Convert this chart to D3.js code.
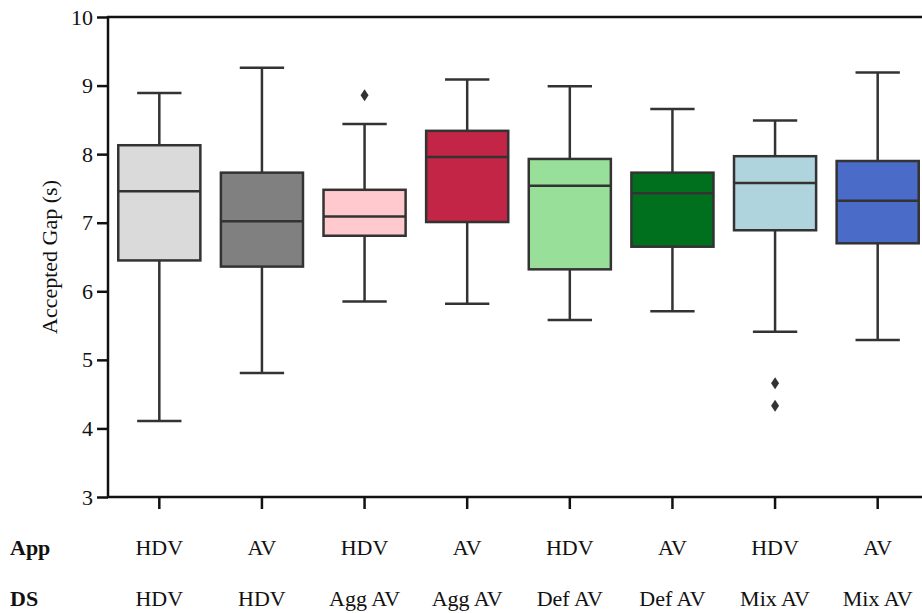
<!DOCTYPE html>
<html>
<head>
<meta charset="utf-8">
<script src="https://cdn.jsdelivr.net/npm/d3@7"></script>
<style>
body { margin: 0; background: #fff; }
svg text { font-family: "Times New Roman", "Liberation Serif", "DejaVu Serif", serif; }
</style>
</head>
<body>
<svg></svg>
<script>
var screen = {width: 922, height: 613};
var margins = {top: 17, right: -7, bottom: 116, left: 108};

// data
var keys = ["g1", "g2", "g3", "g4", "g5", "g6", "g7", "g8"];
var appLabels = ["HDV", "AV", "HDV", "AV", "HDV", "AV", "HDV", "AV"];
var dsLabels = ["HDV", "HDV", "Agg AV", "Agg AV", "Def AV", "Def AV", "Mix AV", "Mix AV"];
var whiskerLow = [4.11, 4.81, 5.85, 5.82, 5.58, 5.71, 5.41, 5.29];
var q1 = [6.45, 6.36, 6.81, 7.01, 6.32, 6.65, 6.89, 6.70];
var median = [7.46, 7.02, 7.09, 7.96, 7.54, 7.43, 7.58, 7.32];
var q3 = [8.13, 7.73, 7.48, 8.34, 7.93, 7.73, 7.97, 7.90];
var whiskerHigh = [8.89, 9.26, 8.44, 9.09, 8.99, 8.66, 8.49, 9.19];
var outliers = [[], [], [8.86], [], [], [], [4.66, 4.33], []];
var colors = ["#dadada", "#808080", "#ffc9ce", "#c22545", "#98df99", "#00701f", "#b0d4dd", "#4a6bc8"];
var yTicks = [3, 4, 5, 6, 7, 8, 9, 10];

var svg = d3.select("svg")
    .attr("width", screen.width)
    .attr("height", screen.height);

var width = screen.width - margins.left - margins.right;
var height = screen.height - margins.top - margins.bottom;

var xScale = d3.scaleBand().domain(keys).range([0, width]).padding(0);
var yScale = d3.scaleLinear().domain([3, 10]).range([height, 0]);

var graph = svg.append("g")
    .attr("transform", "translate(" + margins.left + "," + margins.top + ")");

var boxW = xScale.bandwidth() * 0.8;
var capW = boxW * 0.54;
var edge = "#333333";

var groups = graph.selectAll("g.box")
    .data(keys)
    .enter()
    .append("g")
    .attr("class", "box")
    .attr("transform", function(d){ return "translate(" + (xScale(d) + xScale.bandwidth() / 2) + ",0)"; });

// whiskers
groups.append("line")
    .attr("x1", 0).attr("x2", 0)
    .attr("y1", function(d, i){ return yScale(whiskerLow[i]); })
    .attr("y2", function(d, i){ return yScale(q1[i]); })
    .attr("stroke", edge).attr("stroke-width", 2.5);
groups.append("line")
    .attr("x1", 0).attr("x2", 0)
    .attr("y1", function(d, i){ return yScale(q3[i]); })
    .attr("y2", function(d, i){ return yScale(whiskerHigh[i]); })
    .attr("stroke", edge).attr("stroke-width", 2.5);

// caps
[whiskerLow, whiskerHigh].forEach(function(arr){
    groups.append("line")
        .attr("x1", -capW / 2).attr("x2", capW / 2)
        .attr("y1", function(d, i){ return yScale(arr[i]); })
        .attr("y2", function(d, i){ return yScale(arr[i]); })
        .attr("stroke", edge).attr("stroke-width", 2.5);
});

// boxes
groups.append("rect")
    .attr("x", -boxW / 2)
    .attr("width", boxW)
    .attr("y", function(d, i){ return yScale(q3[i]); })
    .attr("height", function(d, i){ return yScale(q1[i]) - yScale(q3[i]); })
    .attr("fill", function(d, i){ return colors[i]; })
    .attr("stroke", edge).attr("stroke-width", 2.5);

// medians
groups.append("line")
    .attr("x1", -boxW / 2).attr("x2", boxW / 2)
    .attr("y1", function(d, i){ return yScale(median[i]); })
    .attr("y2", function(d, i){ return yScale(median[i]); })
    .attr("stroke", edge).attr("stroke-width", 2.5);

// outliers (thin diamonds)
groups.each(function(d, i){
    d3.select(this).selectAll("path.out")
        .data(outliers[i])
        .enter()
        .append("path")
        .attr("class", "out")
        .attr("d", function(v){
            var cy = yScale(v);
            return "M0," + (cy - 6) + "L4," + cy + "L0," + (cy + 6) + "L-4," + cy + "Z";
        })
        .attr("fill", edge);
});

// axes
var yAxis = d3.axisLeft(yScale).tickValues(yTicks).tickFormat(d3.format("d")).tickSize(11).tickPadding(4);
var yg = graph.append("g").call(yAxis);
yg.select(".domain").remove();
yg.selectAll("line").attr("stroke", "#111").attr("stroke-width", 2.5);
yg.selectAll("text").attr("font-size", 22).attr("fill", "#111");

var xAxis = d3.axisBottom(xScale).tickSize(12).tickFormat("");
var xg = graph.append("g").attr("transform", "translate(0," + height + ")").call(xAxis);
xg.select(".domain").remove();
xg.selectAll("line").attr("stroke", "#111").attr("stroke-width", 2.5);

// spines
graph.append("line").attr("x1", 0).attr("x2", 0).attr("y1", -1).attr("y2", height + 1)
    .attr("stroke", "#111").attr("stroke-width", 2.5);
graph.append("line").attr("x1", -1).attr("x2", width).attr("y1", 0).attr("y2", 0)
    .attr("stroke", "#111").attr("stroke-width", 2.5);
graph.append("line").attr("x1", -1).attr("x2", width).attr("y1", height).attr("y2", height)
    .attr("stroke", "#111").attr("stroke-width", 2.5);

// category rows
var rows = [{name: "App", labels: appLabels, y: 555}, {name: "DS", labels: dsLabels, y: 606}];
rows.forEach(function(r){
    svg.append("text")
        .attr("x", 10).attr("y", r.y)
        .attr("font-size", 22).attr("font-weight", "bold").attr("fill", "#111")
        .text(r.name);
    svg.selectAll("text.row-" + r.name)
        .data(keys)
        .enter()
        .append("text")
        .attr("class", "row-" + r.name)
        .attr("x", function(d){ return margins.left + xScale(d) + xScale.bandwidth() / 2; })
        .attr("y", r.y)
        .attr("text-anchor", "middle")
        .attr("font-size", 22).attr("fill", "#111")
        .text(function(d, i){ return r.labels[i]; });
});

// y label
svg.append("text")
    .attr("transform", "translate(57," + (margins.top + height / 2) + ") rotate(-90)")
    .attr("text-anchor", "middle")
    .attr("font-size", 22).attr("fill", "#111")
    .text("Accepted Gap (s)");
</script>
</body>
</html>
